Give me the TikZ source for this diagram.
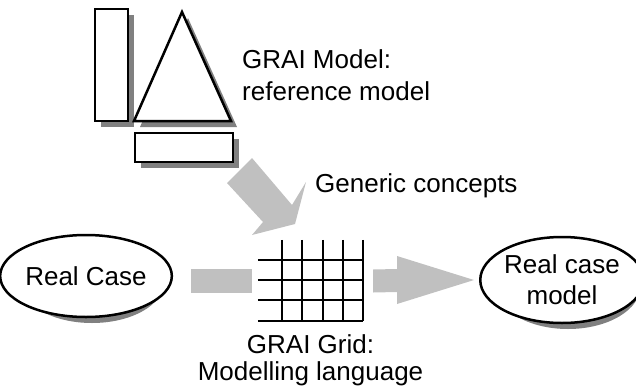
\documentclass[tikz,border=0pt]{standalone}
\usepackage{fontspec}
\setmainfont{Liberation Sans}
\usetikzlibrary{shapes.geometric,positioning,calc,backgrounds}

\definecolor{arrowgray}{RGB}{192,192,192}
\definecolor{shadowgray}{RGB}{128,128,128}

\begin{document}
\begin{tikzpicture}[x=1pt,y=-1pt,
    shadowfill/.style={fill=shadowgray,draw=none},
    outline/.style={draw=black,line width=2.5pt,fill=white},
    blockarrow/.style={fill=arrowgray,draw=none},
    txt/.style={font=\fontsize{26}{32}\selectfont,align=center,inner sep=0pt},
    oval/.style={ellipse,outline,inner sep=0pt,font=\fontsize{26}{31}\selectfont,align=center}]

    \useasboundingbox (0,0) rectangle (636,388);

    % reference model: bar, triangle and base (shadow first)
    \begin{scope}[xshift=6pt,yshift=-6pt]
        \fill[shadowfill] (95,9) rectangle (128,121);
        \fill[shadowfill] (182,12) -- (231,121) -- (134,121) -- cycle;
        \fill[shadowfill] (135,133) rectangle (233,162);
    \end{scope}
    \draw[outline] (95,9) rectangle (128,121);
    \draw[outline,line join=miter] (182,12) -- (231,121) -- (134,121) -- cycle;
    \draw[outline] (135,133) rectangle (233,162);
    \node[txt,anchor=west,align=left] (refmodel) at (242,75) {GRAI Model:\\reference model};

    % generic concepts going down to the grid
    \fill[blockarrow] (252,158) -- (292,205) -- (306,182) -- (295,224)
        -- (252,235) -- (263,222) -- (227,183) -- cycle;
    \node[txt,anchor=base west] (concepts) at (315,192) {Generic concepts};

    % case, grid and resulting model
    \node[oval,minimum width=144pt,minimum height=82pt] (realcase) at (86,276) {Real Case};
    \node[oval,minimum width=145pt,minimum height=86pt] (casemodel) at (562,280) {Real case\\model};
    \begin{scope}[on background layer]
        \fill[shadowfill] ($(realcase.center)+(6,6)$) ellipse [x radius=72, y radius=41];
        \fill[shadowfill] ($(casemodel.center)+(6,6)$) ellipse [x radius=72.5, y radius=43];
    \end{scope}

    \node[inner sep=0pt,minimum width=105pt,minimum height=81pt] (grid) at (310.5,280.5) {};
    \begin{scope}[shift={(grid.north west)},line width=2.5pt]
        \foreach \x in {24,44,65,85,105} \draw (\x,0) -- (\x,81);
        \foreach \y in {20,40,60,81} \draw (0,\y) -- (105,\y);
    \end{scope}
    \node[txt,font=\fontsize{26}{27}\selectfont,below=13pt of grid] (gridtxt) {GRAI Grid:\\Modelling language};

    % block arrows
    \fill[blockarrow] ($(realcase.east)+(18,-7)$) rectangle ($(grid.west)+(-6,12.5)$);
    \coordinate (tail) at ($(grid.east)+(10,0)$);
    \coordinate (tip) at ($(casemodel.west)+(-5,0)$);
    \fill[blockarrow] ($(tail)+(0,-11)$) -- ($(tip)+(-77,-11)$) -- ($(tip)+(-77,-24)$) -- (tip)
        -- ($(tip)+(-77,24)$) -- ($(tip)+(-77,12)$) -- ($(tail)+(0,12)$) -- cycle;

\end{tikzpicture}
\end{document}
